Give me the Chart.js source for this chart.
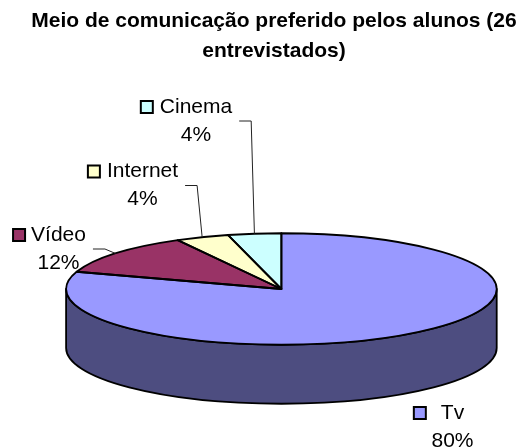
<!DOCTYPE html>
<html>
<head>
<meta charset="utf-8">
<script src="https://cdn.jsdelivr.net/npm/chart.js@4"></script>
<style>
  html, body { margin: 0; padding: 0; background: #fff; }
  #chart { display: block; }
</style>
</head>
<body>
<canvas id="chart" width="531" height="447"></canvas>
<script>
const TITLE = ['Meio de comunicação preferido pelos alunos (26', 'entrevistados)'];
const CATEGORIES = ['Tv', 'Vídeo', 'Internet', 'Cinema'];
const PERCENTS = [80, 12, 4, 4];
const SLICE_COLORS = ['#9999ff', '#993366', '#ffffcc', '#ccffff'];

// fake 3D pie: where the squashed disc sits, how flat it is and how thick
const PIE = { cx: 281.4, cy: 289, radius: 215.3, tilt: 0.259, depth: 59 };

// data labels: centre of the category text, gap to the legend key, leader line or not
const LABEL_POS = [
  { x: 452.5, y: 413,   keyGap: 14, leader: false },
  { x: 58.5,  y: 235,   keyGap: 5,  leader: true },
  { x: 142.5, y: 171.5, keyGap: 6,  leader: true },
  { x: 196,   y: 107,   keyGap: 6,  leader: true },
];

const FONT = "'Liberation Sans', Arial, sans-serif";

function shade(hex, f) {
  const n = parseInt(hex.slice(1), 16);
  const r = Math.round(((n >> 16) & 255) * f);
  const g = Math.round(((n >> 8) & 255) * f);
  const b = Math.round((n & 255) * f);
  return `rgb(${r},${g},${b})`;
}

function ellipseRadii(arc) {
  const rx = arc.outerRadius;
  return { rx, ry: rx * PIE.tilt };
}

const pie3d = {
  id: 'pie3d',

  // front wall of the disc, drawn under the top face
  beforeDatasetsDraw(chart) {
    const ctx = chart.ctx;
    const arcs = chart.getDatasetMeta(0).data;
    ctx.save();
    ctx.lineWidth = 1.8;
    ctx.strokeStyle = '#000';
    ctx.lineJoin = 'round';
    arcs.forEach((arc, i) => {
      const { rx, ry } = ellipseRadii(arc);
      for (let k = -1; k <= 1; k++) {
        const off = k * 2 * Math.PI;
        const a = Math.max(arc.startAngle, off);
        const b = Math.min(arc.endAngle, off + Math.PI);
        if (b <= a) continue;
        const s = a - off, e = b - off;
        ctx.beginPath();
        ctx.ellipse(PIE.cx, PIE.cy, rx, ry, 0, s, e);
        ctx.lineTo(PIE.cx + rx * Math.cos(e), PIE.cy + ry * Math.sin(e) + PIE.depth);
        ctx.ellipse(PIE.cx, PIE.cy + PIE.depth, rx, ry, 0, e, s, true);
        ctx.closePath();
        ctx.fillStyle = shade(SLICE_COLORS[i], 0.5);
        ctx.fill();
        ctx.stroke();
      }
    });
    ctx.restore();
  },

  // squash the library's pie into an ellipse
  beforeDatasetDraw(chart) {
    const ctx = chart.ctx;
    const arc = chart.getDatasetMeta(0).data[0];
    ctx.save();
    ctx.translate(PIE.cx, PIE.cy);
    ctx.scale(1, PIE.tilt);
    ctx.translate(-arc.x, -arc.y);
  },

  afterDatasetDraw(chart) {
    const ctx = chart.ctx;
    ctx.restore();
    const arcs = chart.getDatasetMeta(0).data;
    ctx.save();
    ctx.lineWidth = 1.8;
    ctx.strokeStyle = '#000';
    ctx.lineJoin = 'round';
    arcs.forEach(arc => {
      const { rx, ry } = ellipseRadii(arc);
      ctx.beginPath();
      ctx.moveTo(PIE.cx, PIE.cy);
      ctx.ellipse(PIE.cx, PIE.cy, rx, ry, 0, arc.startAngle, arc.endAngle);
      ctx.closePath();
      ctx.stroke();
    });
    ctx.restore();
  },

  afterDraw(chart) {
    const ctx = chart.ctx;
    const arcs = chart.getDatasetMeta(0).data;
    const total = PERCENTS.reduce((s, v) => s + v, 0);
    ctx.save();
    ctx.font = `21px ${FONT}`;
    ctx.textBaseline = 'middle';
    ctx.textAlign = 'center';
    arcs.forEach((arc, i) => {
      const pos = LABEL_POS[i];
      const name = CATEGORIES[i];
      const pct = Math.round(PERCENTS[i] / total * 100) + '%';
      const w = ctx.measureText(name).width;

      ctx.fillStyle = '#000';
      ctx.fillText(name, pos.x, pos.y);
      ctx.fillText(pct, pos.x, pos.y + 28);

      // legend key
      const kx = pos.x - w / 2 - pos.keyGap - 13;
      const ky = pos.y - 6;
      ctx.fillStyle = SLICE_COLORS[i];
      ctx.fillRect(kx, ky, 12, 12);
      ctx.lineWidth = 2;
      ctx.strokeStyle = '#000';
      ctx.strokeRect(kx, ky, 12, 12);

      if (pos.leader) {
        const { rx, ry } = ellipseRadii(arc);
        const mid = (arc.startAngle + arc.endAngle) / 2;
        const ax = PIE.cx + rx * Math.cos(mid);
        const ay = PIE.cy + ry * Math.sin(mid);
        const sx = pos.x + w / 2 + 7;
        const sy = pos.y + 14;
        ctx.beginPath();
        ctx.moveTo(sx, sy);
        ctx.lineTo(sx + 12, sy);
        ctx.lineTo(ax, ay);
        ctx.lineWidth = 1;
        ctx.strokeStyle = '#222';
        ctx.stroke();
      }
    });
    ctx.restore();
  },
};

new Chart(document.getElementById('chart'), {
  type: 'pie',
  data: {
    labels: CATEGORIES,
    datasets: [{
      data: PERCENTS,
      backgroundColor: SLICE_COLORS,
      borderWidth: 0,
      radius: PIE.radius,
    }],
  },
  options: {
    responsive: false,
    animation: false,
    events: [],
    clip: false,
    layout: { padding: { left: 17 } },
    plugins: {
      legend: { display: false },
      tooltip: { enabled: false },
      title: {
        display: true,
        text: TITLE,
        color: '#000',
        font: { family: FONT, size: 21, weight: 'bold', lineHeight: 1.4 },
        padding: { top: 7, bottom: 0 },
      },
    },
  },
  plugins: [pie3d],
});
</script>
</body>
</html>
